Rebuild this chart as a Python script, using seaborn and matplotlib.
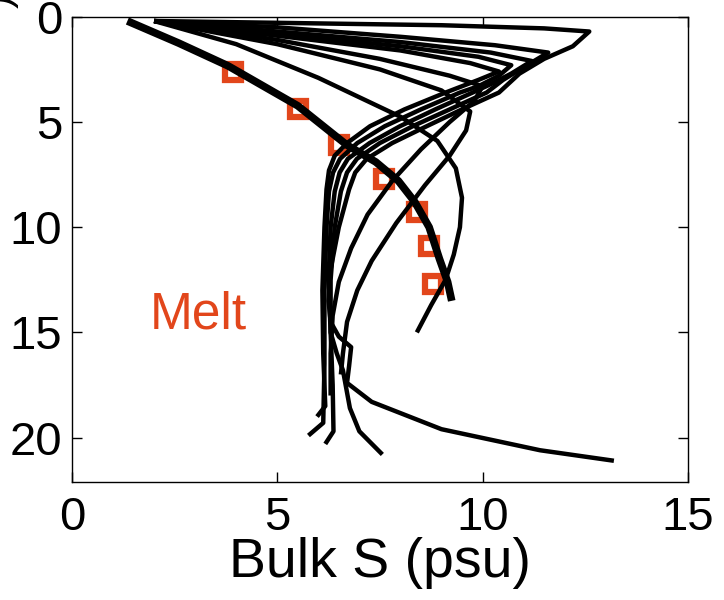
import numpy as np
import pandas as pd
import seaborn as sns
import matplotlib.pyplot as plt

# bulk salinity profiles (S in psu, depth in cm)
g1_s = [2.0, 5.5, 9.0, 11.5, 12.6, 12.2, 11.5, 10.9, 10.4, 9.5, 8.64, 7.8, 7.18, 6.9, 6.75, 6.5, 6.3, 6.25, 6.3, 6.5, 6.8, 6.75, 6.7, 7.3, 9.0, 11.4, 13.2]
g1_d = [0.2, 0.3, 0.4, 0.55, 0.7, 1.4, 2.0, 2.7, 3.6, 4.4, 5.2, 6.0, 6.75, 7.4, 8.2, 10.0, 12.0, 13.5, 14.5, 15.2, 15.7, 16.6, 17.4, 18.3, 19.6, 20.6, 21.1]

g2_s = [2.0, 5.0, 8.0, 10.3, 11.6, 11.0, 10.5, 10.1, 9.2, 8.3, 7.5, 6.94, 6.7, 6.55, 6.4, 6.3, 6.3, 6.45, 6.6, 6.77, 7.0, 7.56]
g2_d = [0.2, 0.5, 0.95, 1.35, 1.7, 2.4, 3.0, 3.6, 4.4, 5.2, 6.0, 6.75, 7.4, 8.3, 10.0, 12.5, 15.0, 16.0, 16.8, 18.6, 19.7, 20.8]

g3_s = [2.0, 5.0, 8.0, 10.2, 11.2, 10.7, 10.2, 9.76, 8.85, 7.99, 7.25, 6.72, 6.52, 6.4, 6.3, 6.25, 6.3, 6.35, 6.37, 6.17]
g3_d = [0.2, 0.7, 1.2, 1.7, 2.1, 2.7, 3.2, 3.6, 4.4, 5.2, 6.0, 6.75, 7.4, 8.3, 10.0, 12.5, 15.0, 17.5, 19.7, 20.3]

g4_s = [2.0, 5.0, 8.0, 9.9, 10.7, 10.4, 9.9, 9.45, 8.5, 7.62, 6.95, 6.53, 6.36, 6.26, 6.2, 6.15, 6.15, 6.12, 5.76]
g4_d = [0.2, 0.8, 1.4, 1.9, 2.3, 2.8, 3.3, 3.6, 4.4, 5.2, 6.0, 6.75, 7.4, 8.3, 10.0, 13.0, 16.5, 19.3, 19.9]

g5_s = [2.0, 5.0, 8.0, 9.7, 10.4, 9.9, 9.1, 8.1, 7.26, 6.7, 6.4, 6.26, 6.2, 6.15, 6.1, 6.12, 6.17, 5.97]
g5_d = [0.2, 0.9, 1.6, 2.2, 2.6, 3.0, 3.6, 4.4, 5.2, 6.0, 6.6, 7.3, 8.2, 10.0, 13.0, 16.0, 18.5, 19.0]

g6_s = [2.0, 5.0, 7.5, 9.2, 10.0, 9.8, 9.2, 8.5, 7.8, 7.2, 6.8, 6.5, 6.35, 6.3, 6.3]
g6_d = [0.2, 1.1, 2.0, 2.8, 3.3, 4.0, 5.0, 6.3, 7.8, 9.4, 11.0, 12.6, 14.2, 16.0, 18.0]

g7_s = [2.0, 5.0, 7.5, 9.0, 9.7, 9.6, 9.2, 8.6, 7.9, 7.3, 6.95, 6.7, 6.6, 6.55]
g7_d = [0.2, 1.3, 2.5, 3.5, 4.5, 5.4, 6.6, 8.0, 9.8, 11.6, 13.0, 14.5, 16.0, 17.0]

h1_s = [2.0, 4.0, 6.0, 8.0, 8.9, 9.35, 9.5, 9.45, 9.3, 9.1, 8.75, 8.4]
h1_d = [0.2, 1.3, 2.9, 4.75, 5.9, 7.2, 8.6, 10.0, 11.3, 12.5, 13.7, 15.0]

# thick profile through the melt observations
melt_s = [1.35, 2.6, 3.8, 5.5, 6.7, 7.4, 7.95, 8.35, 8.7, 8.95, 9.15, 9.25]
melt_d = [0.2, 1.25, 2.33, 4.23, 6.1, 6.9, 7.8, 8.8, 10.0, 11.5, 12.6, 13.5]

# observed melt salinity (squares)
obs_s = [3.93, 5.5, 6.5, 7.6, 8.4, 8.7, 8.8]
obs_d = [2.6, 4.4, 6.1, 7.7, 9.3, 10.9, 12.7]

orange = '#E2461B'

sns.set_style("ticks")
plt.rcParams['font.family'] = ['Liberation Sans', 'DejaVu Sans']
plt.rcParams['text.color'] = 'black'
plt.rcParams['axes.labelcolor'] = 'black'

fig = plt.figure(figsize=(7.24, 6.0), dpi=100)
ax = fig.add_axes([0.0994, 0.197, 0.8506, 0.775])

profiles = [(g1_s, g1_d), (g2_s, g2_d), (g3_s, g3_d), (g4_s, g4_d), (g5_s, g5_d),
            (g6_s, g6_d), (g7_s, g7_d), (h1_s, h1_d)]
for s, d in profiles:
    sns.lineplot(x=s, y=d, sort=False, estimator=None, color='black', lw=3.2,
                 solid_capstyle='butt', solid_joinstyle='round', ax=ax)

sns.lineplot(x=melt_s, y=melt_d, sort=False, estimator=None, color='black', lw=5.5,
             solid_capstyle='butt', solid_joinstyle='round', ax=ax)

sns.lineplot(x=obs_s, y=obs_d, sort=False, estimator=None, marker='s', linestyle='',
             mfc='none', mec=orange, ms=12, mew=4.5, ax=ax, zorder=1)

ax.text(1.9, 14.8, "Melt", color=orange, fontsize=37, va='baseline')

ax.set_xlim(0, 15)
ax.set_ylim(22.1, 0)
ax.set_xticks([0, 5, 10, 15])
ax.set_yticks([0, 5, 10, 15, 20])
ax.tick_params(direction='in', top=True, right=True, length=7, width=1,
               labelsize=34, colors='black')
ax.tick_params(axis='x', pad=10)
ax.tick_params(axis='y', pad=7)
for sp in ax.spines.values():
    sp.set_linewidth(1.0)
    sp.set_color('black')
ax.set_xlabel("Bulk S (psu)", fontsize=40, labelpad=-2)
ax.set_ylabel("")

# cut-off end of the depth label at the left edge
fig.text(-0.03, 1.01, ")", fontsize=30, rotation=90, ha='left', va='top')

fig.savefig('out.png', dpi=100)
